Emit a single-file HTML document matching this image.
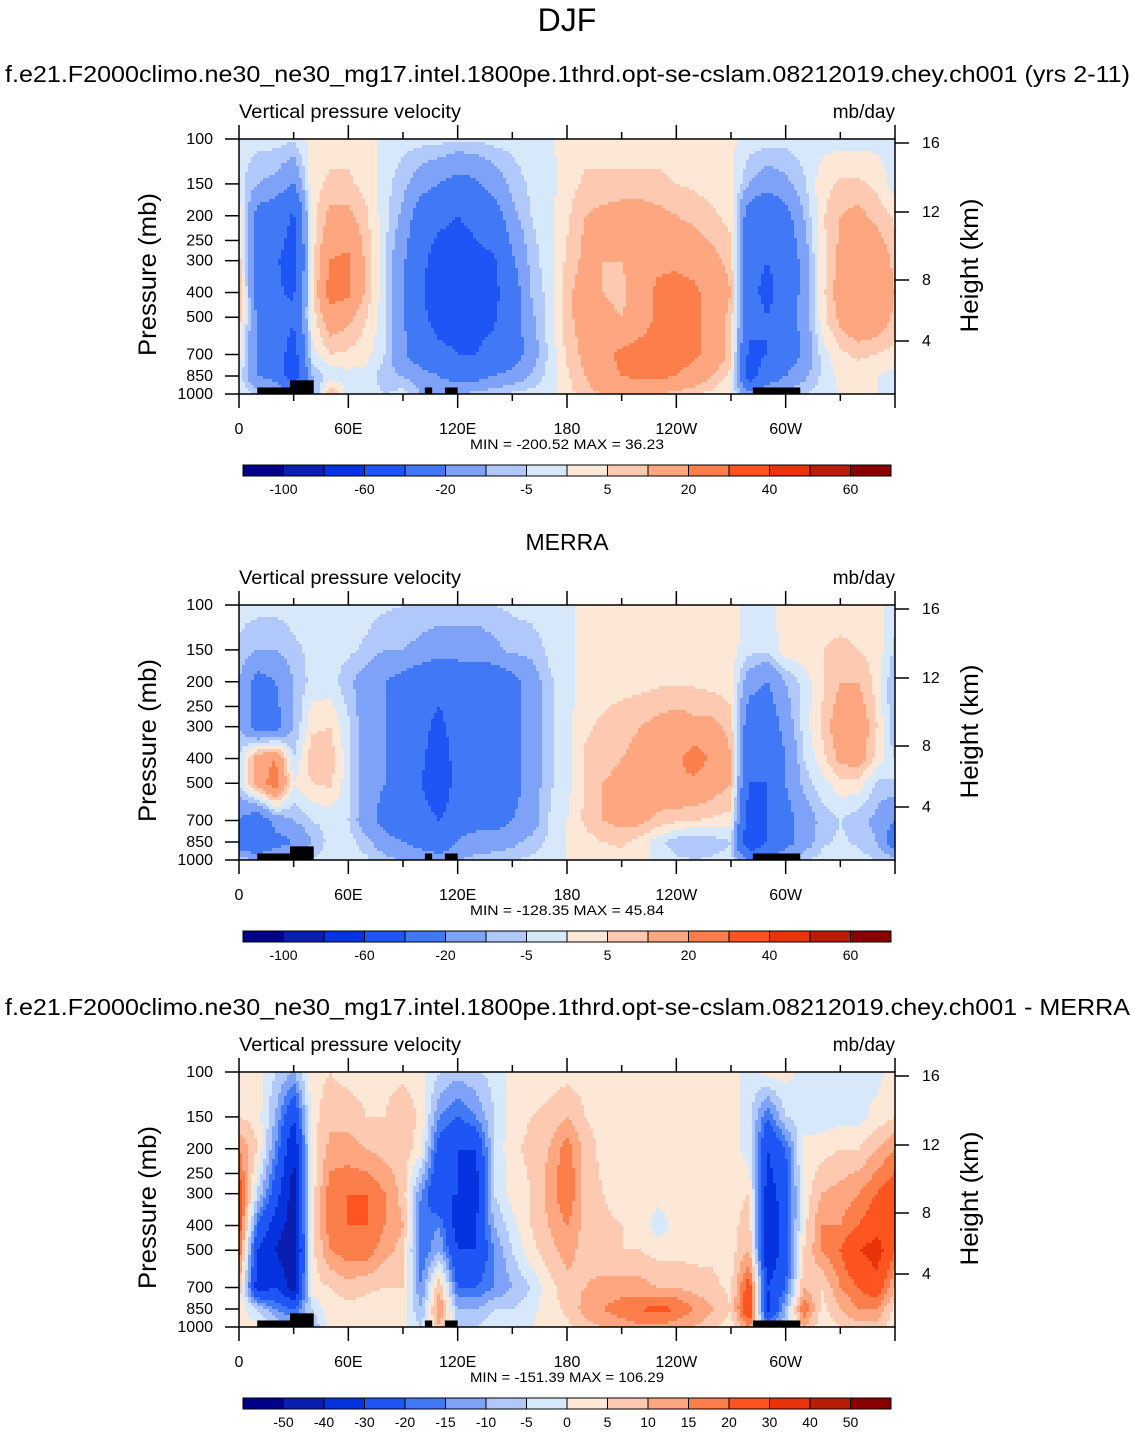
<!DOCTYPE html>
<html><head><meta charset="utf-8"><style>
body{margin:0;background:#fff;}
svg{display:block;font-family:"Liberation Sans",sans-serif;}
</style></head><body>
<svg id="root" width="1135" height="1433" viewBox="0 0 1135 1433" xmlns="http://www.w3.org/2000/svg">
<text x="567" y="31" font-size="32" text-anchor="middle">DJF</text>
<text x="5" y="82" font-size="23" textLength="1125" lengthAdjust="spacingAndGlyphs">f.e21.F2000climo.ne30_ne30_mg17.intel.1800pe.1thrd.opt-se-cslam.08212019.chey.ch001 (yrs 2-11)</text>
<text x="567" y="550" font-size="23" text-anchor="middle">MERRA</text>
<text x="5" y="1015" font-size="23" textLength="1125" lengthAdjust="spacingAndGlyphs">f.e21.F2000climo.ne30_ne30_mg17.intel.1800pe.1thrd.opt-se-cslam.08212019.chey.ch001 - MERRA</text>
<g id="panels"></g>
</svg>
<script>
const lons=[0,10,20,30,40,50,60,70,80,90,100,110,120,130,140,150,160,170,180,190,200,210,220,230,240,250,260,270,280,290,300,310,320,330,340,350];
const levels=[100,150,200,300,400,500,700,850,1000];
const model=[
[-2,-3,-3,-4,2,3,3,2,-2,-3,-3,-3,-4,-4,-3,-3,-2,-1,2,3,3,3,3,3,3,3,2,1,-2,-3,-3,-2,-2,-2,-2,-2],
[-3,-10,-12,-20,3,6,6,3,-3,-8,-15,-20,-25,-22,-15,-8,-4,-2,3,6,6,6,6,6,5,4,3,2,-10,-15,-12,-6,3,6,6,4],
[4,-25,-30,-42,2,12,12,6,-3,-12,-28,-35,-40,-35,-28,-12,-5,-2,4,10,12,14,14,12,10,8,6,3,-28,-35,-25,-10,4,10,12,8],
[8,-28,-38,-48,2,20,22,8,-4,-18,-35,-50,-50,-45,-42,-22,-8,-2,6,12,10,10,14,18,18,16,12,8,-35,-40,-32,-15,3,12,18,16],
[10,-25,-38,-42,3,25,22,8,-4,-20,-38,-55,-52,-45,-45,-28,-10,-3,8,14,10,8,15,22,24,22,15,10,-35,-45,-32,-15,3,14,20,18],
[8,-22,-32,-38,2,15,12,5,-3,-18,-35,-48,-48,-45,-42,-28,-12,-3,8,14,12,10,15,22,24,22,15,8,-32,-40,-30,-15,3,12,18,16],
[3,-22,-28,-50,-2,5,4,2,-5,-18,-28,-35,-40,-40,-35,-28,-15,-4,6,12,18,22,24,24,24,22,16,8,-45,-40,-28,-18,-3,4,6,5],
[-2,-20,-25,-55,-10,-3,-2,-2,-8,-10,-15,-20,-25,-25,-20,-15,-10,-3,4,10,16,20,22,22,20,16,10,3,-50,-30,-20,-12,-4,2,2,0],
[-2,-5,-8,-10,-15,10,-2,-2,-5,-3,-10,-15,-10,-8,-5,-4,-3,-2,3,8,10,12,12,10,8,6,3,0,-15,-10,-6,-5,-3,0,0,0]];
const merra=[
[-3,-3,-3,-3,-3,-3,-3,-3,-4,-5,-6,-6,-6,-6,-5,-4,-3,-2,-2,2,3,3,3,3,3,3,2,2,-2,-2,2,3,3,3,3,2],
[-6,-10,-10,-6,-4,-3,-4,-6,-10,-10,-12,-15,-15,-15,-12,-8,-8,-4,-2,3,3,3,3,3,3,3,3,2,-3,-4,3,4,5,6,5,3],
[-10,-25,-20,-10,-3,-3,-8,-15,-20,-25,-30,-35,-30,-30,-30,-25,-15,-6,-2,3,3,3,3,4,4,4,3,2,-15,-20,-10,-3,4,10,10,3],
[-10,-25,-25,-10,4,5,-4,-15,-20,-25,-35,-45,-30,-30,-30,-25,-15,-6,-2,4,6,8,10,12,14,12,12,8,-30,-30,-15,-3,6,15,16,5],
[-5,15,20,-5,8,8,-3,-15,-20,-30,-35,-55,-30,-35,-35,-25,-15,-6,-2,6,8,10,12,15,18,25,18,10,-35,-40,-20,-5,3,12,14,3],
[-5,15,25,0,5,6,-3,-15,-20,-30,-40,-60,-30,-35,-35,-25,-15,-6,-2,6,10,12,14,16,18,18,14,10,-40,-40,-20,-8,-2,3,3,-6],
[-20,-30,-15,-10,-5,-3,-5,-15,-25,-30,-30,-40,-25,-25,-25,-20,-15,-5,0,6,10,12,12,8,6,5,4,3,-50,-40,-25,-15,-8,-5,-8,-12],
[-30,-40,-25,-20,-10,-3,-3,-8,-15,-20,-25,-30,-20,-15,-15,-12,-8,-4,0,3,5,6,3,-3,-8,-10,-8,-5,-60,-40,-25,-15,-6,-4,-6,-10],
[-5,-10,-8,-10,-5,-2,-2,-4,-8,-10,-12,-15,-10,-8,-6,-5,-4,-2,0,2,3,3,2,-2,-4,-5,-4,-3,-20,-15,-10,-6,-3,-2,-3,-5]];
const diff=[
[3,2,-5,-10,3,5,3,3,3,3,2,-5,-8,-6,-3,2,3,3,3,3,2,2,2,2,2,2,2,2,-2,2,2,-2,-2,-2,-2,-2],
[5,3,-10,-30,3,8,8,5,5,10,3,-15,-20,-15,-5,3,5,6,10,5,3,3,3,3,3,2,2,3,-3,-20,-5,-3,-3,-2,-2,2],
[15,5,-15,-40,2,12,12,10,8,8,2,-25,-30,-30,-5,4,6,10,18,8,3,3,5,4,3,2,2,3,-3,-30,-20,2,3,5,5,10],
[25,-5,-25,-45,2,18,20,20,15,8,-15,-30,-30,-35,-5,2,5,12,20,8,5,3,4,2,3,3,4,3,5,-35,-25,2,10,12,15,20],
[25,-20,-35,-45,3,18,20,20,15,10,-20,-15,-35,-30,-10,-2,5,10,15,8,6,5,4,-3,2,3,4,3,8,-40,-25,3,15,15,20,25],
[20,-30,-40,-50,3,15,18,18,12,8,-20,-10,-30,-30,-15,-5,3,8,12,8,6,5,5,3,3,3,4,3,10,-40,-25,5,15,20,30,35],
[10,-35,-30,-45,3,5,8,6,5,5,-15,10,-20,-20,-15,-10,-5,3,8,10,12,12,12,10,10,8,6,4,25,-30,-20,10,5,15,20,25],
[3,-5,-15,-20,-5,3,3,3,2,2,-10,15,-10,-10,-5,-5,-2,3,6,12,15,18,20,22,20,15,10,5,30,-35,-10,20,3,10,15,15],
[2,2,-5,-10,-10,3,2,2,2,2,-5,10,-5,-5,-2,-2,0,2,4,8,10,12,14,14,12,10,6,3,15,-15,-5,10,2,5,8,8]];
const contourLevels1=[-100,-80,-60,-40,-20,-10,-5,0,5,10,20,30,40,50,60];
const contourLevels3=[-50,-40,-30,-20,-15,-10,-5,0,5,10,15,20,30,40,50];
const barLabels1=["-100","-60","-20","-5","5","20","40","60"];
const barLabels3=["-50","-40","-30","-20","-15","-10","-5","0","5","10","15","20","30","40","50"];
const minmax=["MIN = -200.52  MAX =  36.23","MIN = -128.35  MAX =  45.84","MIN = -151.39  MAX = 106.29"];
const xTickLabels=["0","60E","120E","180","120W","60W"];
const pTicks=[100,150,200,250,300,400,500,700,850,1000];
const hTicks=[16,12,8,4];
const hTickY=[143,212,280,341];
const colors=["#00008a","#0a1eb0","#0533e0","#1e55f5","#4078f5","#7ea2f8","#b0c8fa","#d8e8fb","#fde8d8","#fdc9b1","#fda67f","#fc7e4a","#fe5520","#e83408","#b81e05","#8a0000"];

const NS="http://www.w3.org/2000/svg";
const PX0=239,PW=656,PH=255;
function xOf(lon){return PX0+lon/360*PW;}
function yOf(p,top){return top+Math.log(p/100)/Math.log(10)*PH;}
function mk(tag,attrs,parent){const e=document.createElementNS(NS,tag);for(const k in attrs)e.setAttribute(k,attrs[k]);parent.appendChild(e);return e;}
function colorFor(v,lv){let i=0;while(i<lv.length&&v>=lv[i])i++;return colors[i];}
function sample(data,lon,p){
  const fi=lon/10;let i0=Math.floor(fi);const tx=fi-i0;i0=((i0%36)+36)%36;const i1=(i0+1)%36;
  const lp=Math.log(p);let j=0;while(j<levels.length-2&&lp>Math.log(levels[j+1]))j++;
  const ty=Math.min(1,Math.max(0,(lp-Math.log(levels[j]))/(Math.log(levels[j+1])-Math.log(levels[j]))));
  const a=data[j][i0]*(1-tx)+data[j][i1]*tx, b=data[j+1][i0]*(1-tx)+data[j+1][i1]*tx;
  return a*(1-ty)+b*ty;
}
const topos=[[10,40,960],[28,41,900],[102,106,960],[113,120,960],[282,308,960]];
function panel(top,data,lv,barY,mmText,barLabels,labelEvery,idx){
  const g=mk('g',{},document.getElementById('panels'));
  
  
  const field=mk('g',{},g);
  
  
  const step=3;
  for(let y=0;y<PH;y+=step){
    const p=100*Math.pow(10,Math.min(y+step/2,PH)/PH);
    let runStart=0,runCol=null;
    for(let x=0;;x+=step){
      const done=x>=PW;
      let c=null;
      if(!done){const lon=Math.min(x+step/2,PW)/PW*360;c=colorFor(sample(data,lon,p),lv);}
      if(c!==runCol||done){
        if(runCol!==null){const r=mk('rect',{x:PX0+runStart,y:top+y,width:Math.min(x,PW)-runStart+0.5,height:Math.min(step,PH-y)+0.5,fill:runCol},field);
          
          }
        runStart=x;runCol=c;
      }
      if(done)break;
    }
  }
  topos.forEach(t=>{const r=mk('rect',{x:xOf(t[0]),y:yOf(t[2],top)-2,width:xOf(t[1])-xOf(t[0]),height:top+PH-yOf(t[2],top)+2,fill:'#000'},g);
    
    });
  const fr=mk('rect',{x:PX0,y:top,width:PW,height:PH,fill:'none',stroke:'#000','stroke-width':1.5},g);
  
  
  for(let lon=0;lon<=360;lon+=30){
    const major=lon%60===0,len=major?14:7,x=xOf(lon);
    mk('line',{x1:x,x2:x,y1:top,y2:top-len,stroke:'#000','stroke-width':1.5},g);
    mk('line',{x1:x,x2:x,y1:top+PH,y2:top+PH+len,stroke:'#000','stroke-width':1.5},g);
    if(major&&lon<360){const t=mk('text',{x:x,y:top+PH+40,'font-size':16,'text-anchor':'middle'},g);t.textContent=xTickLabels[lon/60];
      
      }
  }
  pTicks.forEach(p=>{const y=yOf(p,top);mk('line',{x1:PX0,x2:PX0-14,y1:y,y2:y,stroke:'#000','stroke-width':1.5},g);
    const t=mk('text',{x:213,y:y+5,'font-size':16,'text-anchor':'end'},g);t.textContent=p;
    
    });
  hTicks.forEach((h,i)=>{const y=top+hTickY[i]-139;mk('line',{x1:PX0+PW,x2:PX0+PW+14,y1:y,y2:y,stroke:'#000','stroke-width':1.5},g);
    const t=mk('text',{x:922,y:y+5,'font-size':16},g);t.textContent=h;
    
    });
  let t=mk('text',{x:239,y:top-21,'font-size':19,textLength:222,lengthAdjust:'spacingAndGlyphs'},g);t.textContent='Vertical pressure velocity';
  
  t=mk('text',{x:895,y:top-21,'font-size':19,'text-anchor':'end'},g);t.textContent='mb/day';
  
  t=mk('text',{x:156,y:top+PH/2+8,'font-size':25,'text-anchor':'middle',textLength:163,lengthAdjust:'spacingAndGlyphs',transform:`rotate(-90 156 ${top+PH/2+8})`},g);t.textContent='Pressure (mb)';
  
  t=mk('text',{x:978,y:top+PH/2-1,'font-size':25,'text-anchor':'middle',textLength:134,lengthAdjust:'spacingAndGlyphs',transform:`rotate(-90 978 ${top+PH/2-1})`},g);t.textContent='Height (km)';
  
  t=mk('text',{x:470,y:top+PH+55,'font-size':14,textLength:194,lengthAdjust:'spacingAndGlyphs'},g);t.textContent=mmText;
  
  const cb=mk('g',{},g);
  
  
  const bw=648/16;
  colors.forEach((c,i)=>{const r=mk('rect',{x:243+i*bw,y:barY,width:bw,height:11,fill:c,stroke:'#000','stroke-width':1},cb);
    
    });
  barLabels.forEach((l,i)=>{const k=labelEvery===2?1+2*i:1+i;const tt=mk('text',{x:243+k*bw,y:barY+29,'font-size':14,'text-anchor':'middle'},cb);tt.textContent=l;
    
    });
}
panel(139,model,contourLevels1,465,minmax[0],barLabels1,2,1);
panel(605,merra,contourLevels1,931,minmax[1],barLabels1,2,2);
panel(1072,diff,contourLevels3,1398,minmax[2],barLabels3,1,3);
</script>
</body></html>
